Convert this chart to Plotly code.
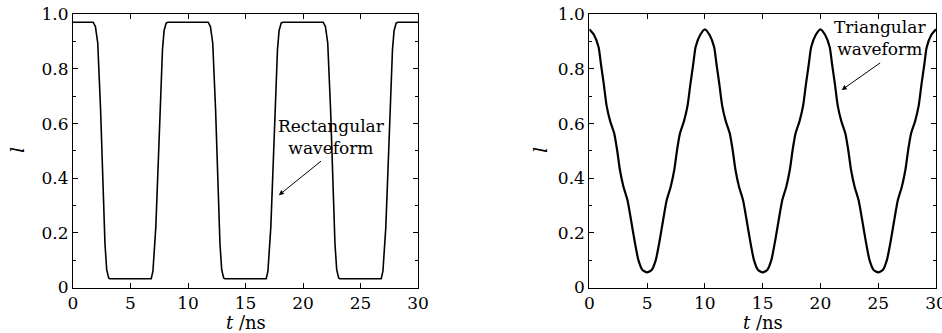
import plotly.graph_objects as go

# ---------------- data ----------------
rect_t = [0, 1.75, 1.95, 2.15, 2.4, 2.62, 2.78, 2.93, 3.1, 3.2,
          6.8, 6.95, 7.2, 7.42, 7.62, 7.78, 7.92, 8.1, 8.25,
          11.75, 11.95, 12.15, 12.4, 12.62, 12.78, 12.93, 13.1, 13.2,
          16.8, 16.95, 17.2, 17.42, 17.62, 17.78, 17.92, 18.1, 18.25,
          21.75, 21.95, 22.15, 22.4, 22.62, 22.78, 22.93, 23.1, 23.2,
          26.8, 26.95, 27.2, 27.42, 27.62, 27.78, 27.92, 28.1, 28.25, 30]
rect_l = [0.971, 0.971, 0.955, 0.895, 0.65, 0.345, 0.16, 0.065, 0.035, 0.032,
          0.032, 0.06, 0.22, 0.465, 0.71, 0.87, 0.94, 0.968, 0.971,
          0.971, 0.955, 0.895, 0.65, 0.345, 0.16, 0.065, 0.035, 0.032,
          0.032, 0.06, 0.22, 0.465, 0.71, 0.87, 0.94, 0.968, 0.971,
          0.971, 0.955, 0.895, 0.65, 0.345, 0.16, 0.065, 0.035, 0.032,
          0.032, 0.06, 0.22, 0.465, 0.71, 0.87, 0.94, 0.968, 0.971, 0.971]

tri_t = [0, 0.4, 0.8, 1.0, 1.25, 1.5, 1.8, 2.15, 2.4, 2.65, 2.95, 3.3, 3.6, 3.9, 4.25, 4.6, 5.0,
         5.4, 5.75, 6.1, 6.4, 6.7, 7.05, 7.35, 7.6, 7.85, 8.2, 8.5, 8.75, 9.0, 9.2, 9.6, 10.0,
         10.4, 10.8, 11.0, 11.25, 11.5, 11.8, 12.15, 12.4, 12.65, 12.95, 13.3, 13.6, 13.9, 14.25, 14.6, 15.0,
         15.4, 15.75, 16.1, 16.4, 16.7, 17.05, 17.35, 17.6, 17.85, 18.2, 18.5, 18.75, 19.0, 19.2, 19.6, 20.0,
         20.4, 20.8, 21.0, 21.25, 21.5, 21.8, 22.15, 22.4, 22.65, 22.95, 23.3, 23.6, 23.9, 24.25, 24.6, 25.0,
         25.4, 25.75, 26.1, 26.4, 26.7, 27.05, 27.35, 27.6, 27.85, 28.2, 28.5, 28.75, 29.0, 29.2, 29.6, 30.0]
tri_l = [0.945, 0.925, 0.88, 0.82, 0.745, 0.665, 0.61, 0.565, 0.505, 0.43, 0.37, 0.32, 0.25, 0.175, 0.10, 0.064, 0.055,
         0.064, 0.10, 0.175, 0.25, 0.32, 0.37, 0.43, 0.505, 0.565, 0.61, 0.665, 0.745, 0.82, 0.88, 0.925, 0.945,
         0.925, 0.88, 0.82, 0.745, 0.665, 0.61, 0.565, 0.505, 0.43, 0.37, 0.32, 0.25, 0.175, 0.10, 0.064, 0.055,
         0.064, 0.10, 0.175, 0.25, 0.32, 0.37, 0.43, 0.505, 0.565, 0.61, 0.665, 0.745, 0.82, 0.88, 0.925, 0.945,
         0.925, 0.88, 0.82, 0.745, 0.665, 0.61, 0.565, 0.505, 0.43, 0.37, 0.32, 0.25, 0.175, 0.10, 0.064, 0.055,
         0.064, 0.10, 0.175, 0.25, 0.32, 0.37, 0.43, 0.505, 0.565, 0.61, 0.665, 0.745, 0.82, 0.88, 0.925, 0.945]

x_ticks = [0, 5, 10, 15, 20, 25, 30]
x_tick_labels = ["0", "5", "10", "15", "20", "25", "30"]
y_ticks = [0, 0.2, 0.4, 0.6, 0.8, 1.0]
y_tick_labels = ["0", "0.2", "0.4", "0.6", "0.8", "1.0"]

FONT = "DejaVu Serif"
W, H = 942, 333

def px(x):
    return x / W

def py(y):
    return (H - y) / H

fig = go.Figure()
fig.add_trace(go.Scatter(x=rect_t, y=rect_l, mode="lines", xaxis="x", yaxis="y",
                         line=dict(color="black", width=1.6), showlegend=False))
fig.add_trace(go.Scatter(x=tri_t, y=tri_l, mode="lines", xaxis="x2", yaxis="y2",
                         line=dict(color="black", width=2.2, shape="spline", smoothing=0.6),
                         showlegend=False))

def xax(domain, anchor):
    return dict(domain=domain, anchor=anchor, range=[0, 30], tickvals=x_ticks, ticktext=x_tick_labels,
                ticks="inside", ticklen=5, tickcolor="black", showline=True, linecolor="black",
                linewidth=1, mirror="allticks", showgrid=False, zeroline=False, automargin=False,
                ticklabeloverflow="allow",
                tickfont=dict(family=FONT, size=17, color="black"))

def yax(domain, anchor):
    return dict(domain=domain, anchor=anchor, range=[0, 1], tickvals=y_ticks, ticktext=y_tick_labels,
                ticks="inside", ticklen=5, tickcolor="black", showline=True, linecolor="black",
                linewidth=1, mirror="allticks", showgrid=False, zeroline=False, automargin=False,
                minor=dict(dtick=0.1, tick0=0, ticks="inside", ticklen=3, tickcolor="black"),
                tickfont=dict(family=FONT, size=17, color="black"))

ydom = [py(287.5), py(14.3)]
fig.update_layout(
    width=W, height=H,
    margin=dict(l=0, r=0, t=0, b=0, autoexpand=False),
    paper_bgcolor="white", plot_bgcolor="white",
    xaxis=xax([px(73), px(418)], "y"),
    yaxis=yax(ydom, "x"),
    xaxis2=xax([px(589.3), px(936)], "y2"),
    yaxis2=yax(ydom, "x2"),
)

ann = []
# axis titles
for xc in [245.5, 762.6]:
    ann.append(dict(xref="paper", yref="paper", x=px(xc), y=py(322), text="<i>t</i> /ns",
                    showarrow=False, font=dict(family=FONT, size=18, color="black"),
                    xanchor="center", yanchor="middle"))
for xc in [17, 540]:
    ann.append(dict(xref="paper", yref="paper", x=px(xc), y=py(150), text="<i>l</i>",
                    showarrow=False, font=dict(family=FONT, size=19, color="black"),
                    textangle=-90, xanchor="center", yanchor="middle"))
# labels
ann.append(dict(xref="x", yref="y", x=22.5, y=0.55, text="Rectangular<br>waveform", showarrow=False,
                font=dict(family=FONT, size=17, color="black"), align="center"))
ann.append(dict(xref="x", yref="y", x=17.9, y=0.338, ax=21.7, ay=0.467, axref="x", ayref="y",
                text="", showarrow=True, arrowhead=2, arrowsize=1, arrowwidth=1, arrowcolor="black"))
ann.append(dict(xref="x2", yref="y2", x=25.15, y=0.915, text="Triangular<br>waveform", showarrow=False,
                font=dict(family=FONT, size=17, color="black"), align="center"))
ann.append(dict(xref="x2", yref="y2", x=21.84, y=0.723, ax=25.3, ay=0.826, axref="x2", ayref="y2",
                text="", showarrow=True, arrowhead=2, arrowsize=1, arrowwidth=1, arrowcolor="black"))
fig.update_layout(annotations=ann)

fig.write_html("out.html", config={"displayModeBar": False},
               post_script="document.body.style.margin='0';")
